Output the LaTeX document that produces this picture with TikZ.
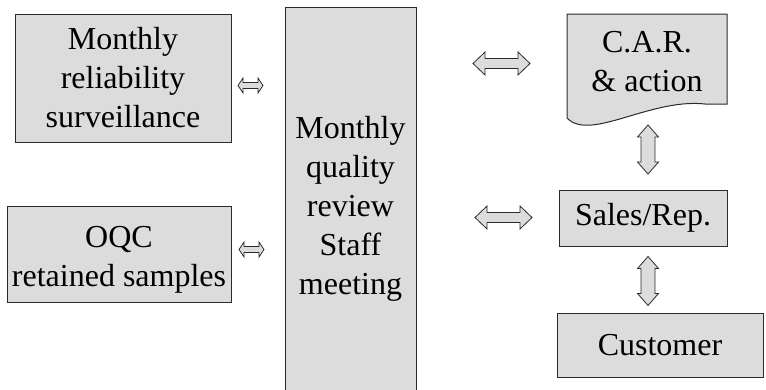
\documentclass[tikz,border=0pt]{standalone}
\usepackage{fontspec}
\setmainfont{Liberation Serif}
\usetikzlibrary{calc}
\definecolor{boxfill}{HTML}{DCDCDC}
\definecolor{boxline}{HTML}{2A2A2A}
\tikzset{
  box/.style={draw=boxline, line width=1pt, fill=boxfill, inner sep=0pt,
    align=center, font=\fontsize{32}{39}\selectfont},
  label/.style={inner sep=0pt, align=center, font=\fontsize{32}{39}\selectfont},
  arrowfill/.style={draw=boxline, line width=0.8pt, fill=boxfill, line join=miter},
  % double block arrow: half length, half head width, head length, half shaft width
  pics/dblarrow/.style n args={4}{code={
    \draw[arrowfill] (-#1,0) -- (-#1+#3,#2) -- (-#1+#3,#4) -- (#1-#3,#4)
      -- (#1-#3,#2) -- (#1,0) -- (#1-#3,-#2) -- (#1-#3,-#4)
      -- (-#1+#3,-#4) -- (-#1+#3,-#2) -- cycle;
  }}
}
\begin{document}
\begin{tikzpicture}[x=1pt, y=-1pt]
\useasboundingbox (0,0) rectangle (766,389);
\clip (0,0) rectangle (766,389);

% left column
\node[box, minimum width=216pt, minimum height=128pt] (rel) at (123,78)
  {Monthly\\reliability\\surveillance};
\node[box, minimum width=224pt, minimum height=96pt] (oqc) at (119,254) {};
\node[label] (oqctext) at ($(oqc.center)+(0,6)$) {OQC\\retained samples};

% central meeting column (runs off the bottom edge)
\node[box, minimum width=131pt, minimum height=404pt] (mqr) at (350.5,209)
  {Monthly\\quality\\review\\Staff\\meeting};

% corrective action document
\draw[draw=boxline, line width=1pt, fill=boxfill]
  (567,14) -- (727,14) -- (727,104) -- (705,104)
  .. controls (650,98) and (590,142) .. (567,118) -- cycle;
\node[label] (car) at (647,62) {C.A.R.\\\& action};

% right column
\node[box, minimum width=168pt, minimum height=56pt] (sales) at (643,218) {Sales/Rep.};
\node[box, minimum width=206pt, minimum height=64pt] (cust) at (660,345) {Customer};

% two-way links
\pic at (250.5,85.5) {dblarrow={12.5}{7.5}{5}{3}};
\pic at (251.5,249.5) {dblarrow={12.5}{7.5}{5}{3}};
\pic at (501.5,63.5) {dblarrow={28.5}{11.5}{12}{5}};
\pic at (503.5,217.5) {dblarrow={28.5}{11.5}{12}{5}};
\pic[rotate=90] at (648,149.5) {dblarrow={24.5}{10.5}{12}{7}};
\pic[rotate=90] at (648,281) {dblarrow={24.5}{10.5}{12}{7}};
\end{tikzpicture}
\end{document}
